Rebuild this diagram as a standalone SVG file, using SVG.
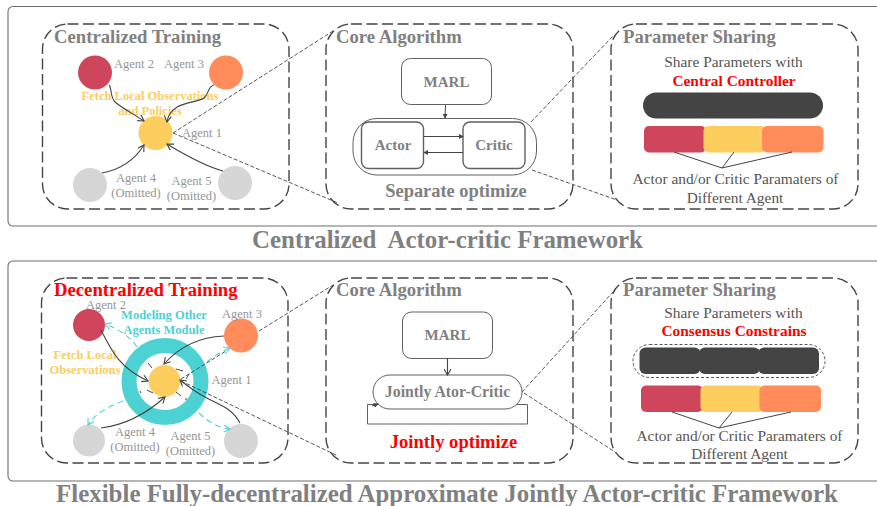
<svg xmlns="http://www.w3.org/2000/svg" width="877" height="506" viewBox="0 0 877 506">
<style>
text{font-family:"Liberation Serif","Times New Roman",serif;text-anchor:middle}
.frame{fill:#fff;stroke:#6e6e6e;stroke-width:1.1}
.panel{fill:none;stroke:#444;stroke-width:1.4;stroke-dasharray:11 4.500}
.box{fill:#fff;stroke:#606060;stroke-width:1}
.h{font-size:18.700px;font-weight:bold;fill:#808080;text-anchor:start}
.big{font-size:24.900px;font-weight:bold;fill:#808080}
.ag{font-size:12.500px;fill:#969696}
.y{font-size:12.500px;font-weight:bold;fill:#fdcd5d}
.t{font-size:15px;font-weight:bold;fill:#808080}
.s{font-size:15.400px;fill:#555}
.r{font-size:15.400px;font-weight:bold;fill:#f00}
.c{font-size:12.500px;font-weight:bold;fill:#4dd2d4}
.l{fill:none;stroke:#444;stroke-width:1.1;marker-end:url(#a)}
.n{fill:none;stroke:#444;stroke-width:1;marker-end:url(#f)}
.d{fill:none;stroke:#444;stroke-width:.9;stroke-dasharray:4 2}
.cy{fill:none;stroke:#4dd2d4;stroke-width:1.1;stroke-dasharray:6 4;marker-end:url(#b)}
.p{fill:none;stroke:#444;stroke-width:1}
</style>
<defs>
<marker id="a" viewBox="0 0 8 8" refX="7" refY="4" markerWidth="8" markerHeight="8" markerUnits="userSpaceOnUse" orient="auto"><path d="M1 .5L7 4L1 7.500" fill="none" stroke="#444" stroke-width="1.100"/></marker>
<marker id="b" viewBox="0 0 8 8" refX="7" refY="4" markerWidth="8" markerHeight="8" markerUnits="userSpaceOnUse" orient="auto"><path d="M1 .5L7 4L1 7.500" fill="none" stroke="#4dd2d4" stroke-width="1.100"/></marker>
<marker id="f" viewBox="0 0 6 6" refX="5" refY="3" markerWidth="5" markerHeight="5" markerUnits="userSpaceOnUse" orient="auto"><path d="M0 0L6 3L0 6Z" fill="#444"/></marker>
</defs>

<g id="frame-top"><rect class="frame" x="8" y="6.500" width="900" height="219.500" rx="5"/></g>
<g id="frame-bottom"><rect class="frame" x="8" y="261" width="900" height="220" rx="5"/></g>

<g id="panel-centralized-training">
<rect class="panel" x="42.500" y="24" width="246.500" height="185" rx="25"/>
<text class="h" x="54" y="43">Centralized Training</text>
</g>
<g id="agent-2-top"><circle cx="95" cy="72.500" r="17" fill="#cf455c"/><text class="ag" x="134" y="68">Agent 2</text></g>
<g id="agent-3-top"><circle cx="226" cy="72.500" r="17" fill="#ff8c5a"/><text class="ag" x="184" y="68">Agent 3</text></g>
<g id="agent-1-top"><circle cx="155.500" cy="133" r="17" fill="#fdcd5d"/><text class="ag" x="202" y="137">Agent 1</text></g>
<g id="agent-4-top"><circle cx="90" cy="185" r="17" fill="#d6d6d6"/><text class="ag" x="136" y="182">Agent 4</text><text class="ag" x="136" y="197">(Omitted)</text></g>
<g id="agent-5-top"><circle cx="235" cy="183" r="17" fill="#d6d6d6"/><text class="ag" x="191.500" y="185">Agent 5</text><text class="ag" x="191.500" y="200">(Omitted)</text></g>
<g id="label-fetch-top"><text class="y" x="150" y="100">Fetch Local Observations</text><text class="y" x="150" y="115">and Policies</text></g>

<g id="panel-core-top">
<rect class="panel" x="326" y="24" width="247" height="185" rx="25"/>
<text class="h" x="336" y="43">Core Algorithm</text>
<text class="t" x="456" y="197" style="font-size:18.400px">Separate optimize</text>
</g>
<g id="marl-top"><rect class="box" x="401.500" y="58.500" width="90" height="46" rx="9"/><text class="t" x="446.500" y="87">MARL</text></g>
<g id="actor-critic-top"><rect class="box" x="353" y="118.500" width="183.500" height="56.500" rx="24"/></g>
<g id="actor-top"><rect class="box" x="361.500" y="122" width="62" height="46.500" rx="7" style="stroke-width:1.400"/><text class="t" x="393" y="150">Actor</text></g>
<g id="critic-top"><rect class="box" x="463" y="122" width="62" height="46.500" rx="7" style="stroke-width:1.400"/><text class="t" x="494" y="150">Critic</text></g>

<g id="panel-sharing-top">
<rect class="panel" x="611" y="24" width="247" height="185" rx="25"/>
<text class="h" x="623" y="43">Parameter Sharing</text>
<text class="s" x="733.500" y="67">Share Parameters with</text>
<text class="r" x="734" y="86">Central Controller</text>
</g>
<g id="controller-top"><rect x="643" y="92.500" width="180" height="26" rx="13" fill="#444"/></g>
<g id="params-top">
<rect x="644" y="126" width="62" height="26.500" rx="5" fill="#cf455c"/>
<rect x="703.500" y="126" width="62" height="26.500" rx="5" fill="#fdcd5d"/>
<rect x="762" y="126" width="61.500" height="26.500" rx="5" fill="#ff8c5a"/>
<text class="s" x="735.500" y="183.500">Actor and/or Critic Paramaters of</text>
<text class="s" x="735" y="202.500">Different Agent</text>
</g>
<g id="title-top"><text class="big" x="447.500" y="247.500" xml:space="preserve">Centralized  Actor-critic Framework</text></g>

<g id="panel-decentralized-training">
<rect class="panel" x="41.500" y="278" width="246.500" height="185" rx="25"/>
<text class="h" x="54" y="296" style="fill:#f00">Decentralized Training</text>
</g>
<g id="ring"><circle cx="165" cy="381.500" r="36" fill="none" stroke="#4dd2d4" stroke-width="15"/></g>
<g id="agent-2-bottom"><circle cx="89" cy="325" r="16" fill="#cf455c"/><text class="ag" x="106" y="308.500">Agent 2</text></g>
<g id="agent-3-bottom"><circle cx="241" cy="335.500" r="17" fill="#ff8c5a"/><text class="ag" x="242" y="318">Agent 3</text></g>
<g id="agent-1-bottom"><circle cx="164.500" cy="381" r="16" fill="#fdcd5d"/><text class="ag" x="231.500" y="384">Agent 1</text></g>
<g id="agent-4-bottom"><circle cx="89" cy="440.500" r="16" fill="#d6d6d6"/><text class="ag" x="135" y="436">Agent 4</text><text class="ag" x="135" y="451">(Omitted)</text></g>
<g id="agent-5-bottom"><circle cx="241" cy="441" r="17" fill="#d6d6d6"/><text class="ag" x="190.500" y="440">Agent 5</text><text class="ag" x="190.500" y="455">(Omitted)</text></g>
<g id="label-fetch-bottom"><text class="y" x="85" y="359">Fetch Local</text><text class="y" x="85" y="374">Observations</text></g>
<g id="label-modeling"><text class="c" x="164" y="319">Modeling Other</text><text class="c" x="164" y="334">Agents Module</text></g>

<g id="panel-core-bottom">
<rect class="panel" x="326" y="278" width="247" height="185" rx="25"/>
<text class="h" x="336" y="296">Core Algorithm</text>
<text class="r" x="453.500" y="448" style="font-size:18.600px">Jointly optimize</text>
</g>
<g id="marl-bottom"><rect class="box" x="402.500" y="312" width="90" height="46.500" rx="9"/><text class="t" x="447.500" y="340">MARL</text></g>
<g id="jointly-loop"><path class="box" d="M367.500 404.500H527.500V424H367.500Z"/></g>
<g id="jointly-bottom"><rect class="box" x="373" y="375" width="149" height="34" rx="17"/><text class="t" x="447.500" y="397" style="font-size:15.800px">Jointly Ator-Critic</text></g>

<g id="panel-sharing-bottom">
<rect class="panel" x="611" y="278" width="247" height="185" rx="25"/>
<text class="h" x="623" y="296">Parameter Sharing</text>
<text class="s" x="733.500" y="317.500">Share Parameters with</text>
<text class="r" x="734" y="336">Consensus Constrains</text>
</g>
<g id="controller-bottom">
<rect x="633" y="344.500" width="192" height="33" rx="16.500" fill="none" stroke="#444" stroke-width=".9" stroke-dasharray="3 2"/>
<rect x="639.500" y="347.500" width="61" height="26.500" rx="6" fill="#444"/>
<rect x="699" y="347.500" width="61" height="26.500" rx="6" fill="#444"/>
<rect x="758" y="347.500" width="61" height="26.500" rx="6" fill="#444"/>
</g>
<g id="params-bottom">
<rect x="641" y="385.500" width="62" height="26.500" rx="5" fill="#cf455c"/>
<rect x="700.500" y="385.500" width="62" height="26.500" rx="5" fill="#fdcd5d"/>
<rect x="759.500" y="385.500" width="61.500" height="26.500" rx="5" fill="#ff8c5a"/>
<text class="s" x="739.500" y="441">Actor and/or Critic Paramaters of</text>
<text class="s" x="739.500" y="459">Different Agent</text>
</g>
<g id="title-bottom"><text class="big" x="447" y="502">Flexible Fully-decentralized Approximate Jointly Actor-critic Framework</text></g>

<g id="connectors">
<path class="l" d="M109 85C112 88 110 97 115 102C122 108 135 115 144 121"/>
<path class="l" d="M214 85C208 86 209 94 204 98C195 104 170 101 167 122"/>
<path class="l" d="M102 173C118 170 134 161 144 145"/>
<path class="l" d="M223 171C205 166 185 155 167 144"/>
<path class="d" d="M173 133L333 31"/>
<path class="d" d="M173 133L338 203"/>
<path class="n" d="M445.500 105L445 118"/>
<path class="n" d="M423.500 136.500H463"/>
<path class="n" d="M463 152.500H424"/>
<path class="d" d="M531 122L613 36"/>
<path class="d" d="M532 170L617 200"/>
<path class="p" d="M674 152L722 168L792 152M734 152L722 168"/>

<path class="cy" d="M137 347C130 336 118 329 105 324"/>
<path class="cy" d="M123 401C110 406 95 413 88 425"/>
<path class="cy" d="M199 413C207 421 218 428 230 429"/>
<path class="cy" d="M207 362C214 356 220 352 230 348"/>
<path class="l" d="M101 330C112 352 120 368 148 381"/>
<path class="l" d="M224 336C200 337 180 346 164 364"/>
<path class="l" d="M101 428C125 425 145 415 165 397"/>
<path class="l" d="M240 423C232 408 220 405 205 397C195 392 190 388 180 380"/>
<path class="p" d="M148 363L152 368M176 369L183 371M189 374L186 379M140 391L141 393M147 390L153 393M176 392L181 396M186 398L186 400"/>
<path class="d" d="M181 379L226 351M259 331L333 285"/>
<path class="d" d="M181 381L338 456"/>
<path class="l" d="M447.500 358V375"/>
<path class="n" d="M372 406L378 404"/>
<path class="d" d="M522 392L613 292"/>
<path class="d" d="M524 393L615 452"/>
<path class="p" d="M672 412L719 428L732 412M719 428L791 412"/>
</g>
</svg>
